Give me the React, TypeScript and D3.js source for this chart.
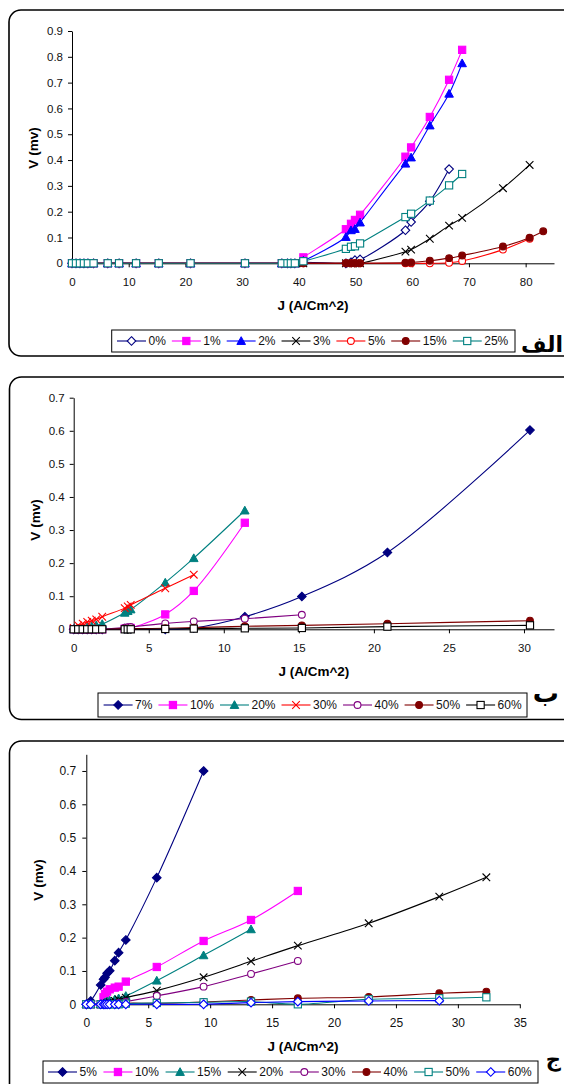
import React, { useEffect, useRef } from "react";
import * as d3 from "d3";

// ---------- Panel 1 (الف) ----------
const p1J = [0, 0.7, 1.4, 2.1, 2.8, 3.8, 6.3, 8.3, 11.3, 15.3, 20.9, 30.5, 37, 38, 38.6, 39.3, 40.8, 48.3, 49.2, 49.9, 50.8, 58.8, 59.8, 63.1, 66.5, 68.8, 76, 80.7, 83.1];
const p1Names = ["0%", "1%", "2%", "3%", "5%", "15%", "25%"];
const Z16 = [0, 0, 0, 0, 0, 0, 0, 0, 0, 0, 0, 0, 0, 0, 0, 0];
const p1V0 = [...Z16, 0.004, 0, 0.004, 0.012, 0.015, 0.128, 0.16, 0.24, 0.365, null, null, null, null];
const p1V1 = [...Z16, 0.023, 0.132, 0.153, 0.168, 0.188, 0.413, 0.449, 0.567, 0.711, 0.827, null, null, null];
const p1V2 = [...Z16, 0.01, 0.102, 0.128, 0.133, 0.158, 0.386, 0.41, 0.534, 0.657, 0.775, null, null, null];
const p1V3 = [...Z16, 0, 0, 0, 0, 0, 0.045, 0.053, 0.095, 0.146, 0.176, 0.291, 0.381, null];
const p1V5 = [...Z16, 0, 0, 0, 0, 0, 0, 0, 0, 0.002, 0.009, 0.053, 0.095, null];
const p1V15 = [...Z16, 0, 0, 0, 0, 0, 0.002, 0.003, 0.01, 0.02, 0.03, 0.065, 0.099, 0.124];
const p1V25 = [...Z16, 0.008, 0.056, 0.064, 0.066, 0.077, 0.179, 0.192, 0.243, 0.302, 0.346, null, null, null];
const p1XTicks = [0, 10, 20, 30, 40, 50, 60, 70, 80];
const p1YTicks = [0, 0.1, 0.2, 0.3, 0.4, 0.5, 0.6, 0.7, 0.8, 0.9];

// ---------- Panel 2 (ب) ----------
const p2J = [0, 0.3, 0.6, 0.9, 1.2, 1.5, 1.9, 3.4, 3.6, 3.8, 6.1, 8.0, 11.4, 15.2, 20.9, 30.4];
const p2Names = ["7%", "10%", "20%", "30%", "40%", "50%", "60%"];
const p2V7 = [0, 0, 0, 0, 0, 0, 0, 0.002, 0.002, 0.002, 0, 0.004, 0.038, 0.099, 0.232, 0.602];
const p2V10 = [0, 0, 0, 0, 0, 0, 0, 0.002, 0.003, 0.004, 0.045, 0.116, 0.322, null, null, null];
const p2V20 = [0, 0.002, 0.004, 0.007, 0.009, 0.012, 0.016, 0.05, 0.055, 0.06, 0.141, 0.215, 0.359, null, null, null];
const p2V30 = [0.004, 0.012, 0.017, 0.022, 0.026, 0.03, 0.038, 0.064, 0.069, 0.074, 0.124, 0.165, null, null, null, null];
const p2V40 = [0, 0, 0, 0, 0, 0, 0, 0.005, 0.006, 0.007, 0.018, 0.024, 0.032, 0.044, null, null];
const p2V50 = [0, 0, 0, 0, 0, 0, 0, 0.002, 0.002, 0.002, 0.003, 0.005, 0.009, 0.012, 0.017, 0.026];
const p2V60 = [0, 0, 0, 0, 0, 0, 0, 0, 0, 0, 0.001, 0.002, 0.003, 0.004, 0.008, 0.012];
const p2XTicks = [0, 5, 10, 15, 20, 25, 30];
const p2YTicks = [0, 0.1, 0.2, 0.3, 0.4, 0.5, 0.6, 0.7];

// ---------- Panel 3 (ج) ----------
const p3J = [0, 0.35, 1.16, 1.39, 1.51, 1.68, 1.89, 2.3, 2.61, 3.19, 5.69, 9.47, 13.3, 17.08, 22.8, 28.5, 32.3];
const p3Names = ["5%", "10%", "15%", "20%", "30%", "40%", "50%", "60%"];
const p3V5 = [0, 0.01, 0.058, 0.075, 0.081, 0.093, 0.101, 0.131, 0.155, 0.193, 0.38, 0.7, null, null, null, null, null];
const p3V10 = [0, 0, 0, 0.021, 0.031, 0.038, 0.045, 0.05, 0.053, 0.068, 0.112, 0.19, 0.253, 0.34, null, null, null];
const p3V15 = [0, 0, 0, 0.003, 0.006, 0.009, 0.011, 0.015, 0.018, 0.025, 0.071, 0.147, 0.225, null, null, null, null];
const p3V20 = [0, 0, 0, 0, 0.002, 0.004, 0.006, 0.01, 0.014, 0.02, 0.041, 0.081, 0.129, 0.176, 0.243, 0.323, 0.381];
const p3V30 = [0, 0, 0, 0, 0, 0, 0, 0.002, 0.004, 0.008, 0.025, 0.053, 0.091, 0.13, null, null, null];
const p3V40 = [0, 0, 0, 0, 0, 0, 0, 0, 0, 0.003, 0.003, 0.007, 0.013, 0.018, 0.022, 0.033, 0.038];
const p3V50 = [0, 0, 0, 0, 0, 0, 0, 0, 0, 0.002, 0.004, 0.006, 0.008, 0, 0.015, 0.018, 0.021];
const p3V60 = [0, 0, 0, 0, 0, 0, 0, 0, 0, 0, 0, 0, 0.005, 0.008, 0.01, 0.011, null];
const p3XTicks = [0, 5, 10, 15, 20, 25, 30, 35];
const p3YTicks = [0, 0.1, 0.2, 0.3, 0.4, 0.5, 0.6, 0.7];

type Marker = "diamond" | "square" | "triangle" | "x" | "circle";
interface Series { name: string; values: (number | null)[]; color: string; marker: Marker; filled: boolean; }
interface Panel {
  J: number[];
  series: Series[];
  frame: [number, number, number, number];
  left: number; right: number; top: number; bottom: number;
  xMax: number; yMax: number;
  xTicks: number[]; yTicks: number[];
  tickFont: number; xPad: number; yPad: number;
  yTitle: [number, number]; xTitleY: number;
  legend: { x: number; y: number; w: number; h: number; start: number; gap: number };
  label: { text: string; x: number; y: number; size: number };
}

const NAVY = "#000080", MAG = "#FF00FF", BLUE = "#0000FF", TEAL = "#008080", RED = "#FF0000", DRED = "#800000", PURP = "#800080", BLK = "#000000";

const panels: Panel[] = [
  {
    J: p1J,
    series: [
      { name: p1Names[0], values: p1V0, color: NAVY, marker: "diamond", filled: false },
      { name: p1Names[1], values: p1V1, color: MAG, marker: "square", filled: true },
      { name: p1Names[2], values: p1V2, color: BLUE, marker: "triangle", filled: true },
      { name: p1Names[3], values: p1V3, color: BLK, marker: "x", filled: false },
      { name: p1Names[4], values: p1V5, color: RED, marker: "circle", filled: false },
      { name: p1Names[5], values: p1V15, color: DRED, marker: "circle", filled: true },
      { name: p1Names[6], values: p1V25, color: TEAL, marker: "square", filled: false },
    ],
    frame: [9, 10, 580, 346],
    left: 72, right: 554, top: 31, bottom: 263.3,
    xMax: 85, yMax: 0.9, xTicks: p1XTicks, yTicks: p1YTicks,
    tickFont: 11.5, xPad: 10.5, yPad: 5,
    yTitle: [33.5, 148], xTitleY: 309.5,
    legend: { x: 111.7, y: 330, w: 403.3, h: 22, start: 117, gap: 6 },
    label: { text: "الف", x: 563, y: 352, size: 22 },
  },
  {
    J: p2J,
    series: [
      { name: p2Names[0], values: p2V7, color: NAVY, marker: "diamond", filled: true },
      { name: p2Names[1], values: p2V10, color: MAG, marker: "square", filled: true },
      { name: p2Names[2], values: p2V20, color: TEAL, marker: "triangle", filled: true },
      { name: p2Names[3], values: p2V30, color: RED, marker: "x", filled: false },
      { name: p2Names[4], values: p2V40, color: PURP, marker: "circle", filled: false },
      { name: p2Names[5], values: p2V50, color: DRED, marker: "circle", filled: true },
      { name: p2Names[6], values: p2V60, color: BLK, marker: "square", filled: false },
    ],
    frame: [9.5, 377, 580, 342.5],
    left: 73.7, right: 554, top: 397.7, bottom: 629.3,
    xMax: 32, yMax: 0.7, xTicks: p2XTicks, yTicks: p2YTicks,
    tickFont: 11.5, xPad: 10.5, yPad: 5,
    yTitle: [35.6, 520], xTitleY: 676,
    legend: { x: 98, y: 693, w: 429, h: 24, start: 103.6, gap: 6 },
    label: { text: "ب", x: 559, y: 702, size: 26 },
  },
  {
    J: p3J,
    series: [
      { name: p3Names[0], values: p3V5, color: NAVY, marker: "diamond", filled: true },
      { name: p3Names[1], values: p3V10, color: MAG, marker: "square", filled: true },
      { name: p3Names[2], values: p3V15, color: TEAL, marker: "triangle", filled: true },
      { name: p3Names[3], values: p3V20, color: BLK, marker: "x", filled: false },
      { name: p3Names[4], values: p3V30, color: PURP, marker: "circle", filled: false },
      { name: p3Names[5], values: p3V40, color: DRED, marker: "circle", filled: true },
      { name: p3Names[6], values: p3V50, color: TEAL, marker: "square", filled: false },
      { name: p3Names[7], values: p3V60, color: BLUE, marker: "diamond", filled: false },
    ],
    frame: [9.5, 741, 580, 380],
    left: 86.3, right: 519.8, top: 754.3, bottom: 1004.3,
    xMax: 35, yMax: 0.75, xTicks: p3XTicks, yTicks: p3YTicks,
    tickFont: 12, xPad: 10, yPad: 6,
    yTitle: [38.3, 880], xTitleY: 1050.5,
    legend: { x: 43, y: 1061, w: 495, h: 22, start: 48, gap: 6.6 },
    label: { text: "ج", x: 561, y: 1066, size: 21 },
  },
];

const FONT = "'Liberation Sans', Arial, Helvetica, sans-serif";

function drawMarker(g: any, m: Marker, x: number, y: number, color: string, filled: boolean) {
  const fill = filled ? color : "#ffffff";
  if (m === "square") {
    g.append("rect").attr("x", x - 3.6).attr("y", y - 3.6).attr("width", 7.2).attr("height", 7.2)
      .attr("fill", fill).attr("stroke", color).attr("stroke-width", 1.1);
  } else if (m === "diamond") {
    const r = 4.3;
    g.append("path").attr("d", `M${x},${y - r}L${x + r},${y}L${x},${y + r}L${x - r},${y}Z`)
      .attr("fill", fill).attr("stroke", color).attr("stroke-width", 1.1);
  } else if (m === "triangle") {
    const r = 4.3;
    g.append("path").attr("d", `M${x},${y - r}L${x + r},${y + r * 0.8}L${x - r},${y + r * 0.8}Z`)
      .attr("fill", fill).attr("stroke", color).attr("stroke-width", 1);
  } else if (m === "circle") {
    g.append("circle").attr("cx", x).attr("cy", y).attr("r", 3.4)
      .attr("fill", fill).attr("stroke", color).attr("stroke-width", 1.1);
  } else {
    const r = 3.8;
    g.append("path").attr("d", `M${x - r},${y - r}L${x + r},${y + r}M${x - r},${y + r}L${x + r},${y - r}`)
      .attr("fill", "none").attr("stroke", color).attr("stroke-width", 1.1);
  }
}

function drawPanel(svg: any, p: Panel) {
  const [fx, fy, fw, fh] = p.frame;
  svg.append("rect").attr("x", fx).attr("y", fy).attr("width", fw).attr("height", fh)
    .attr("rx", 12).attr("ry", 12).attr("fill", "none").attr("stroke", "#000").attr("stroke-width", 1.6);

  const x = d3.scaleLinear().domain([0, p.xMax]).range([p.left, p.right]);
  const y = d3.scaleLinear().domain([0, p.yMax]).range([p.bottom, p.top]);
  const fmt = (d: number) => (d === 0 ? "0" : d3.format(".1f")(d));

  const ya = svg.append("g").attr("transform", `translate(${p.left},0)`)
    .call(d3.axisLeft(y).tickValues(p.yTicks).tickSizeInner(4).tickSizeOuter(0).tickPadding(p.yPad).tickFormat(fmt as any));
  const xa = svg.append("g").attr("transform", `translate(0,${p.bottom})`)
    .call(d3.axisBottom(x).tickValues(p.xTicks).tickSizeInner(4).tickSizeOuter(0).tickPadding(p.xPad).tickFormat(d3.format("d") as any));
  [ya, xa].forEach((a) => {
    a.selectAll("path,line").attr("stroke", "#000").attr("stroke-width", 1);
    a.selectAll("text").attr("font-family", FONT).attr("font-size", p.tickFont).attr("fill", "#111");
  });

  svg.append("text").attr("transform", `translate(${p.yTitle[0]},${p.yTitle[1]}) rotate(-90)`)
    .attr("text-anchor", "middle").attr("dy", "0.35em").attr("font-family", FONT).attr("font-weight", "bold")
    .attr("font-size", 13.5).attr("fill", "#000").text("V (mv)");
  svg.append("text").attr("x", (p.left + p.right) / 2).attr("y", p.xTitleY)
    .attr("text-anchor", "middle").attr("font-family", FONT).attr("font-weight", "bold")
    .attr("font-size", 13.5).attr("fill", "#000").text("J (A/Cm^2)");

  const line = d3.line<[number, number]>().x((d) => x(d[0])).y((d) => y(d[1])).curve(d3.curveCatmullRom.alpha(0.5));
  p.series.forEach((s) => {
    const pts: [number, number][] = [];
    s.values.forEach((v, i) => { if (v !== null && v !== undefined) pts.push([p.J[i], v]); });
    const g = svg.append("g");
    g.append("path").attr("d", line(pts)).attr("fill", "none").attr("stroke", s.color).attr("stroke-width", 1.1);
    pts.forEach((d) => drawMarker(g, s.marker, x(d[0]), y(d[1]), s.color, s.filled));
  });

  // legend
  const L = p.legend;
  svg.append("rect").attr("x", L.x).attr("y", L.y).attr("width", L.w).attr("height", L.h)
    .attr("fill", "#fff").attr("stroke", "#000").attr("stroke-width", 1);
  const cy = L.y + L.h / 2;
  let cx = L.start;
  const lineLen = 29;
  p.series.forEach((s) => {
    const g = svg.append("g");
    g.append("line").attr("x1", cx).attr("x2", cx + lineLen).attr("y1", cy).attr("y2", cy)
      .attr("stroke", s.color).attr("stroke-width", 1.1);
    drawMarker(g, s.marker, cx + lineLen / 2, cy, s.color, s.filled);
    const t = g.append("text").attr("x", cx + lineLen + 2.5).attr("y", cy + 4.3)
      .attr("font-family", FONT).attr("font-size", 12).attr("fill", "#111").text(s.name);
    const w = (t.node() as SVGTextElement).getComputedTextLength();
    cx = cx + lineLen + 2.5 + w + L.gap;
  });

  svg.append("text").attr("x", p.label.x).attr("y", p.label.y).attr("text-anchor", "end")
    .attr("font-family", "'DejaVu Sans', sans-serif").attr("font-weight", "bold")
    .attr("font-size", p.label.size).attr("fill", "#000").text(p.label.text);
}

export default function App() {
  const ref = useRef<SVGSVGElement | null>(null);
  useEffect(() => {
    const svg = d3.select(ref.current);
    svg.selectAll("*").remove();
    svg.append("rect").attr("width", 564).attr("height", 1084).attr("fill", "#fff");
    panels.forEach((p) => drawPanel(svg, p));
  }, []);
  return (
    <svg ref={ref} width={564} height={1084} style={{ position: "absolute", left: 0, top: 0, display: "block" }} />
  );
}
